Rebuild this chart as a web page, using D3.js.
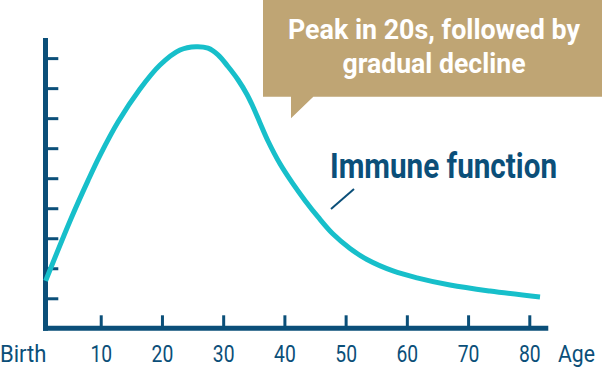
<!DOCTYPE html>
<html>
<head>
<meta charset="utf-8">
<script src="https://cdn.jsdelivr.net/npm/d3@7"></script>
<style>
  html, body { margin: 0; padding: 0; background: #fff; }
  svg { display: block; font-family: Roboto, "Noto Sans", sans-serif; }
</style>
</head>
<body>
<div id="container"></div>
<script>
// data (arbitrary units, one y tick = 1)
var ages   = [1.0, 5.14, 7.92, 9.88, 12.82, 16.41, 19.68, 22.95, 25.56, 27.52, 29.16, 30.79, 32.42, 33.89, 34.87, 36.02, 37.32, 39.28, 41.41, 43.36, 45.49, 47.94, 50.72, 53.49, 57.74, 61.66, 67.05, 73.58, 81.75];
var immune = [1.58, 3.65, 4.92, 5.76, 6.87, 7.97, 8.77, 9.27, 9.38, 9.33, 9.11, 8.72, 8.28, 7.79, 7.38, 6.84, 6.24, 5.48, 4.81, 4.26, 3.71, 3.14, 2.66, 2.29, 1.91, 1.68, 1.44, 1.24, 1.04];
var xTicks = [10, 20, 30, 40, 50, 60, 70, 80];
var yTicks = [1, 2, 3, 4, 5, 6, 7, 8, 9];
var calloutLines = ["Peak in 20s, followed by", "gradual decline"];
var seriesLabel = "Immune function";
var startLabel = "Birth", endLabel = "Age";

var width = 603, height = 371;
var navy = "#0b4f79", teal = "#17bfca", tan = "#bfa574";

var svg = d3.select("#container").append("svg")
    .attr("width", width)
    .attr("height", height);

var x = d3.scaleLinear().domain([0, 80]).range([39.5, 529.3]);
var y = d3.scaleLinear().domain([0, 9.67]).range([328.3, 38]);
var axisX = 45.5;   // where the y axis sits

// callout box with pointer
svg.append("path")
    .attr("d", "M263,0H602V96.7H313.3L291,118.3V96.7H263Z")
    .attr("fill", tan);

svg.selectAll(".callout")
    .data(calloutLines)
    .enter().append("text")
    .attr("class", "callout")
    .attr("x", 434)
    .attr("y", function (d, i) { return 39 + i * 34 })
    .attr("text-anchor", "middle")
    .attr("font-size", 27)
    .attr("font-weight", 700)
    .attr("fill", "#fff")
    .attr("textLength", function (d, i) { return i === 0 ? 292 : 183 })
    .attr("lengthAdjust", "spacingAndGlyphs")
    .text(function (d) { return d });

// x ticks + labels
var gx = svg.append("g")
    .attr("transform", "translate(0," + y(0) + ")")
    .call(d3.axisBottom(x).tickValues(xTicks).tickSize(-13).tickPadding(17));
gx.select(".domain").remove();
gx.selectAll(".tick line").attr("stroke", navy).attr("stroke-width", 3);
gx.selectAll(".tick text")
    .attr("fill", navy)
    .attr("font-size", 23)
    .attr("font-family", "Roboto, sans-serif")
    .attr("textLength", 21.7)
    .attr("lengthAdjust", "spacingAndGlyphs");

// y ticks, no labels
var gy = svg.append("g")
    .attr("transform", "translate(" + axisX + ",0)")
    .call(d3.axisRight(y).tickValues(yTicks).tickSize(12.8).tickFormat(""));
gy.select(".domain").remove();
gy.selectAll(".tick line").attr("stroke", navy).attr("stroke-width", 3);

// axis lines
svg.append("line")
    .attr("x1", axisX).attr("x2", axisX)
    .attr("y1", y(9.67)).attr("y2", y(0) + 2.5)
    .attr("stroke", navy).attr("stroke-width", 5);
svg.append("line")
    .attr("x1", axisX - 2.5).attr("x2", x(83.1))
    .attr("y1", y(0)).attr("y2", y(0))
    .attr("stroke", navy).attr("stroke-width", 5);

// end labels
svg.append("text")
    .attr("x", 0).attr("y", 361.7)
    .attr("font-size", 23).attr("fill", navy)
    .attr("textLength", 46.5).attr("lengthAdjust", "spacingAndGlyphs")
    .text(startLabel);
svg.append("text")
    .attr("x", 558).attr("y", 361.7)
    .attr("font-size", 23).attr("fill", navy)
    .attr("textLength", 37).attr("lengthAdjust", "spacingAndGlyphs")
    .text(endLabel);

// the curve
var line = d3.line()
    .x(function (d) { return x(d[0]) })
    .y(function (d) { return y(d[1]) })
    .curve(d3.curveCatmullRom.alpha(0.5));

svg.append("path")
    .datum(d3.zip(ages, immune))
    .attr("d", line)
    .attr("fill", "none")
    .attr("stroke", teal)
    .attr("stroke-width", 5);

// series label + leader
svg.append("text")
    .attr("x", 330).attr("y", 178.3)
    .attr("font-size", 35).attr("font-weight", 700).attr("fill", navy)
    .attr("textLength", 227).attr("lengthAdjust", "spacingAndGlyphs")
    .text(seriesLabel);
svg.append("line")
    .attr("x1", 331).attr("y1", 209)
    .attr("x2", 354).attr("y2", 189)
    .attr("stroke", navy).attr("stroke-width", 2);
</script>
</body>
</html>
